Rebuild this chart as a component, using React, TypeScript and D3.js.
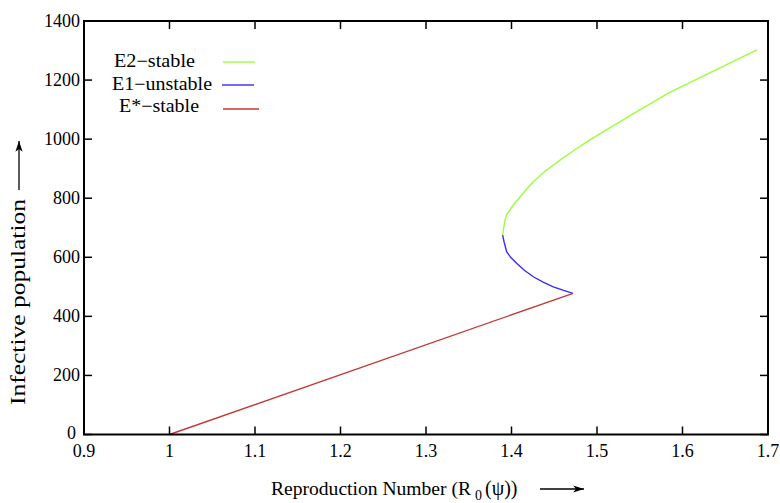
import { useEffect } from "react";
import * as d3 from "d3";

// E*-stable branch (straight line from R0 = 1)
const redX = [1.0, 1.472];
const redY = [0, 478];

// E1-unstable branch (turning point down to the junction)
const blueX = [1.3896, 1.3915, 1.3943, 1.399, 1.406, 1.415, 1.4255, 1.437, 1.4489, 1.461, 1.472];
const blueY = [675, 650, 619, 600, 580, 556, 534, 516, 500, 488, 478];

// E2-stable branch
const greenX = [1.3896, 1.392, 1.394, 1.402, 1.413, 1.4255, 1.44, 1.4567, 1.472, 1.488, 1.51, 1.531, 1.55, 1.57, 1.585, 1.605, 1.645, 1.687];
const greenY = [675, 720, 743, 777, 815, 856, 893, 929, 960, 991, 1030, 1066, 1099, 1133, 1158, 1186, 1243, 1302];

const xTicks = [0.9, 1, 1.1, 1.2, 1.3, 1.4, 1.5, 1.6, 1.7];
const yTicks = [0, 200, 400, 600, 800, 1000, 1200, 1400];

const legendLabels = ["E2\u2212stable", "E1\u2212unstable", "E*\u2212stable"];
const GREEN = "#9aff3a";
const BLUE = "#3a2aff";
const RED = "#c23838";

const W = 780;
const H = 503;
const M = { left: 84, right: 768, top: 21, bottom: 434.5 };
const FONT = "'Liberation Serif', 'Times New Roman', 'DejaVu Serif', serif";

export default function App() {
  useEffect(() => {
    document.body.style.margin = "0";
  }, []);

  const x = d3.scaleLinear().domain([0.9, 1.7]).range([M.left, M.right]);
  const y = d3.scaleLinear().domain([0, 1400]).range([M.bottom, M.top]);

  const line = d3
    .line<[number, number]>()
    .x((d) => x(d[0]))
    .y((d) => y(d[1]));

  const zip = (xs: number[], ys: number[]) => xs.map((v, i) => [v, ys[i]] as [number, number]);

  const series = [
    { pts: zip(greenX, greenY), color: GREEN },
    { pts: zip(blueX, blueY), color: BLUE },
    { pts: zip(redX, redY), color: RED },
  ];

  // hand-placed legend (text start, width, baseline, line segment)
  const legend = [
    { tx: 114, tw: 81, ty: 67, x1: 223, x2: 255, ly: 62, color: GREEN },
    { tx: 112, tw: 100, ty: 90, x1: 222, x2: 254, ly: 85, color: BLUE },
    { tx: 119, tw: 80, ty: 112, x1: 223, x2: 259, ly: 109, color: RED },
  ];

  const tick = 8;

  return (
    <svg width={W} height={H} style={{ display: "block", background: "#fff", fontFamily: FONT }}>
      <defs>
        <marker id="arr" viewBox="0 0 12 10" refX="12" refY="5" markerWidth="12" markerHeight="9" orient="auto" markerUnits="userSpaceOnUse">
          <path d="M0,1 L12,5 L0,9 L3,5 Z" fill="#000" />
        </marker>
      </defs>

      {/* curves */}
      {series.map((s, i) => (
        <path key={i} d={line(s.pts) ?? ""} fill="none" stroke={s.color} strokeWidth={1.4} />
      ))}

      {/* frame */}
      <rect x={M.left} y={M.top} width={M.right - M.left} height={M.bottom - M.top} fill="none" stroke="#000" strokeWidth={2} />

      {/* x ticks */}
      {xTicks.map((t) => (
        <g key={"x" + t}>
          <line x1={x(t)} x2={x(t)} y1={M.bottom} y2={M.bottom - tick} stroke="#000" strokeWidth={1.5} />
          <line x1={x(t)} x2={x(t)} y1={M.top} y2={M.top + tick} stroke="#000" strokeWidth={1.5} />
          <text x={x(t)} y={457} textAnchor="middle" fontSize={18}>
            {String(t)}
          </text>
        </g>
      ))}

      {/* y ticks */}
      {yTicks.map((t) => (
        <g key={"y" + t}>
          <line x1={M.left} x2={M.left + tick} y1={y(t)} y2={y(t)} stroke="#000" strokeWidth={1.5} />
          <line x1={M.right} x2={M.right - tick} y1={y(t)} y2={y(t)} stroke="#000" strokeWidth={1.5} />
          <text x={t === 0 ? 76 : 80} y={y(t) + (t === 0 ? 4 : 6)} textAnchor="end" fontSize={18}>
            {String(t)}
          </text>
        </g>
      ))}

      {/* legend */}
      {legend.map((l, i) => (
        <g key={"l" + i}>
          <text x={l.tx} y={l.ty} fontSize={18} textLength={l.tw} lengthAdjust="spacingAndGlyphs">
            {legendLabels[i]}
          </text>
          <line x1={l.x1} x2={l.x2} y1={l.ly} y2={l.ly} stroke={l.color} strokeWidth={1.4} />
        </g>
      ))}

      {/* x title */}
      <text x={271} y={495} fontSize={19}>
        <tspan textLength={200} lengthAdjust="spacingAndGlyphs">Reproduction Number (R</tspan>
        <tspan fontSize={14} dx={4} dy={5}>0</tspan>
        <tspan dx={3} dy={-5} fontSize={20}>(ψ))</tspan>
      </text>
      <line x1={540} x2={584} y1={489} y2={489} stroke="#000" strokeWidth={1.3} markerEnd="url(#arr)" />

      {/* y title */}
      <text
        transform="translate(25,302) rotate(-90)"
        textAnchor="middle"
        fontSize={21}
        textLength={206}
        lengthAdjust="spacingAndGlyphs"
      >
        Infective population
      </text>
      <line x1={19} x2={19} y1={190} y2={141} stroke="#000" strokeWidth={1.3} markerEnd="url(#arr)" />
    </svg>
  );
}
